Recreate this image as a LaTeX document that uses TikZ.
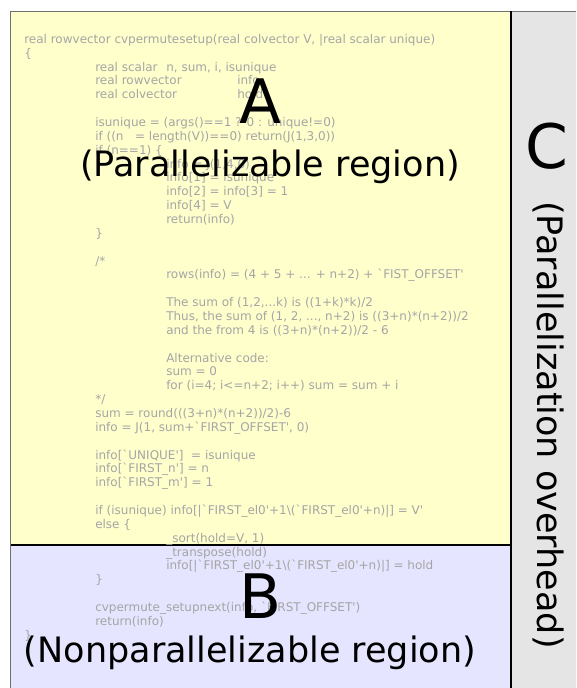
\documentclass[tikz,border=0pt]{standalone}
\usepackage{fontspec}
\usepackage{xcolor}
\usepackage{tikz}
\usetikzlibrary{positioning}
\newfontfamily\codefont{DejaVu Sans}[Ligatures=TeXOff]
\newfontfamily\labelfont{DejaVu Sans}
\definecolor{regA}{HTML}{FFFFCC}
\definecolor{regB}{HTML}{E5E5FF}
\definecolor{regC}{HTML}{E5E5E5}
\definecolor{codegray}{HTML}{A5A5A5}
\definecolor{bordergray}{HTML}{707070}
\newlength\tabw
\setlength\tabw{53.25pt}
% riga di codice: numero, rientro, testo
\newcommand\codeln[3]{\node[code] (ln#1) at ({24+71*#2},{43.3+13.86*(#1-1)}) {#3};}

\begin{document}
\begin{tikzpicture}[x=0.75pt, y=-0.75pt,
    code/.style={anchor=base west, inner sep=0pt, text=codegray, font=\codefont\fontsize{9pt}{11pt}\selectfont},
    biglabel/.style={anchor=base, inner sep=0pt, font=\labelfont\fontsize{46pt}{50pt}\selectfont},
    sublabel/.style={anchor=base, inner sep=0pt, font=\labelfont\fontsize{26.25pt}{30pt}\selectfont}]
    \useasboundingbox (0,0) rectangle (576,688);
    %regioni
    \fill[regA] (10.5,11.5) rectangle (511,545);
    \fill[regB] (10.5,545) rectangle (511,688);
    \fill[regC] (511,11.5) rectangle (576,688);
    \draw[bordergray, line width=1.1pt] (10.5,688) -- (10.5,11.5) -- (576,11.5);
    \draw[black, line width=0.9pt] (511,11.5) -- (511,688);
    \draw[black, line width=0.9pt] (10.5,545) -- (511,545);

    %codice
    \codeln{1}{0}{real rowvector cvpermutesetup(real colvector V, |real scalar unique)}
    \codeln{2}{0}{\{}
    \codeln{3}{1}{\makebox[\tabw][l]{real scalar}n, sum, i, isunique}
    \codeln{4}{1}{\makebox[2\tabw][l]{real rowvector}info}
    \codeln{5}{1}{\makebox[2\tabw][l]{real colvector}hold}
    \codeln{7}{1}{isunique = (args()==1 ? 0 : unique!=0)}
    \codeln{8}{1}{if ((n\ \ \ = length(V))==0) return(J(1,3,0))}
    \codeln{9}{1}{if (n==1) \{}
    \codeln{10}{2}{info = J(1,4,0)}
    \codeln{11}{2}{info[1] = isunique}
    \codeln{12}{2}{info[2] = info[3] = 1}
    \codeln{13}{2}{info[4] = V}
    \codeln{14}{2}{return(info)}
    \codeln{15}{1}{\}}
    \codeln{17}{1}{/*}
    \codeln{18}{2}{rows(info) = (4 + 5 + ... + n+2) + `FIST\_OFFSET'}
    \codeln{20}{2}{The sum of (1,2,...k) is ((1+k)*k)/2}
    \codeln{21}{2}{Thus, the sum of (1, 2, ..., n+2) is ((3+n)*(n+2))/2}
    \codeln{22}{2}{and the from 4 is ((3+n)*(n+2))/2 - 6}
    \codeln{24}{2}{Alternative code:}
    \codeln{25}{2}{sum = 0}
    \codeln{26}{2}{for (i=4; i<=n+2; i++) sum = sum + i}
    \codeln{27}{1}{*/}
    \codeln{28}{1}{sum = round(((3+n)*(n+2))/2)-6}
    \codeln{29}{1}{info = J(1, sum+`FIRST\_OFFSET', 0)}
    \codeln{31}{1}{info[`UNIQUE']\ \ = isunique}
    \codeln{32}{1}{info[`FIRST\_n'] = n}
    \codeln{33}{1}{info[`FIRST\_m'] = 1}
    \codeln{35}{1}{if (isunique) info[|`FIRST\_el0'+1\textbackslash(`FIRST\_el0'+n)|] = V'}
    \codeln{36}{1}{else \{}
    \codeln{37}{2}{\_sort(hold=V, 1)}
    \codeln{38}{2}{\_transpose(hold)}
    \codeln{39}{2}{info[|`FIRST\_el0'+1\textbackslash(`FIRST\_el0'+n)|] = hold}
    \codeln{40}{1}{\}}
    \codeln{42}{1}{cvpermute\_setupnext(info, `FIRST\_OFFSET')}
    \codeln{43}{1}{return(info)}
    \codeln{44}{0}{\}}

    %etichette
    \node[biglabel] (labA) at (260,123) {A};
    \node[sublabel] (subA) at (270,176) {(Parallelizable region)};
    \node[biglabel] (labB) at (261,618) {B};
    \node[sublabel] (subB) at (250,662) {(Nonparallelizable region)};
    \node[biglabel] (labC) at (547,168) {C};
    \node[sublabel, anchor=center, rotate=-90] (subC) at (548,425) {(Parallelization overhead)};
\end{tikzpicture}
\end{document}
